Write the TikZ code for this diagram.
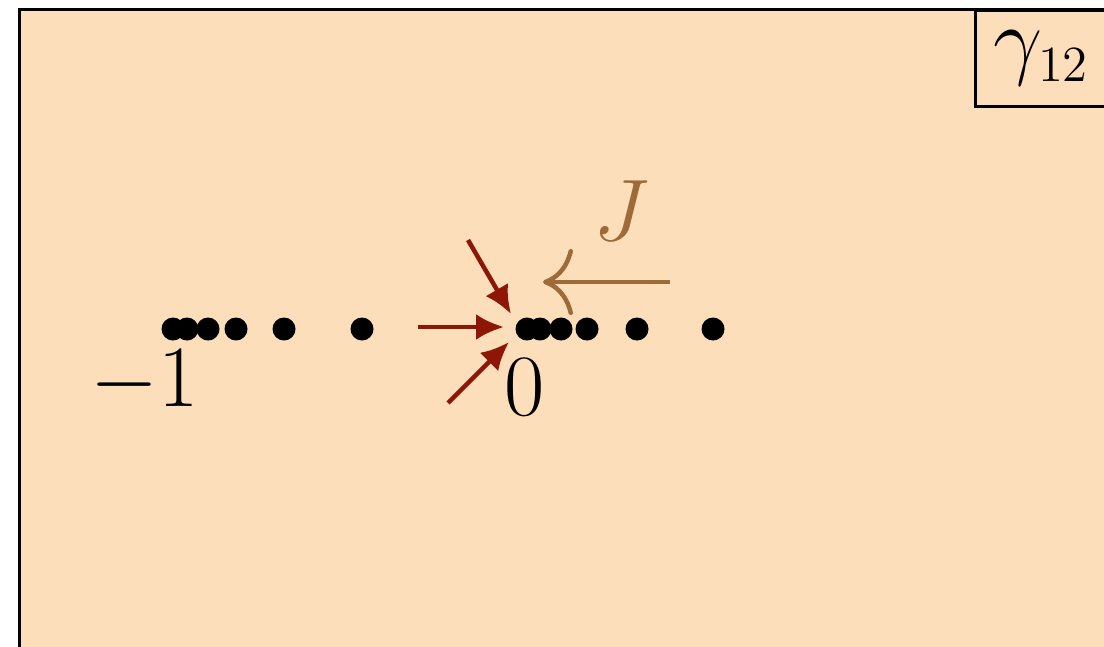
\documentclass[tikz,border=0pt]{standalone}
\usetikzlibrary{arrows.meta}
\definecolor{peach}{HTML}{FDDEBA}
\definecolor{flow}{HTML}{8E1606}
\definecolor{coupling}{HTML}{9E6A38}

\begin{document}
\begin{tikzpicture}[every node/.style={font=\fontsize{24.88}{30}\selectfont},dot/.style={circle,fill,inner sep=0pt,minimum size=2.3mm},flowarrow/.style={draw=flow,line width=0.45mm,-{Latex[length=2.8mm,width=2.6mm]}}]
\useasboundingbox (0,0) rectangle (11.04,6.46);
\clip (0,0) rectangle (11.04,6.46);
\draw[line width=0.3mm,fill=peach] (0.195,6.365) rectangle (11.5,-0.5);
\node[draw,line width=0.3mm,anchor=north west,minimum width=1.32cm,minimum height=0.95cm,inner sep=0pt] (gamma) at (9.74,6.365) {$\gamma_{\mbox{\fontsize{14.4}{17}\selectfont 12}}$};
% cluster at -1
\node[dot] (m1) at (1.73,3.17) {};
\node[dot] (m2) at (1.87,3.17) {};
\node[dot] (m3) at (2.08,3.17) {};
\node[dot] (m4) at (2.36,3.17) {};
\node[dot] (m5) at (2.84,3.17) {};
\node[dot] (m6) at (3.62,3.17) {};
% cluster at 0
\node[dot] (z1) at (5.27,3.17) {};
\node[dot] (z2) at (5.40,3.17) {};
\node[dot] (z3) at (5.61,3.17) {};
\node[dot] (z4) at (5.87,3.17) {};
\node[dot] (z5) at (6.37,3.17) {};
\node[dot] (z6) at (7.13,3.17) {};
\node (minusone) at (1.45,2.64) {$-1$};
\node (zero) at (5.25,2.59) {$0$};
\node[text=coupling] (J) at (6.21,4.35) {$J$};
% incoming flows
\coordinate (up) at (4.68,4.06);
\coordinate (mid) at (4.18,3.19);
\coordinate (low) at (4.48,2.43);
\coordinate (upend) at (5.11,3.32);
\coordinate (midend) at (5.04,3.19);
\coordinate (lowend) at (5.09,3.04);
\draw[flowarrow] (up)--(upend);
\draw[flowarrow] (mid)--(midend);
\draw[flowarrow] (low)--(lowend);
\coordinate (jstart) at (6.70,3.64);
\coordinate (jend) at (5.43,3.64);
\draw[coupling,line width=0.45mm,-{Computer Modern Rightarrow[length=3mm,width=6.6mm]}] (jstart)--(jend);
\end{tikzpicture}
\end{document}
